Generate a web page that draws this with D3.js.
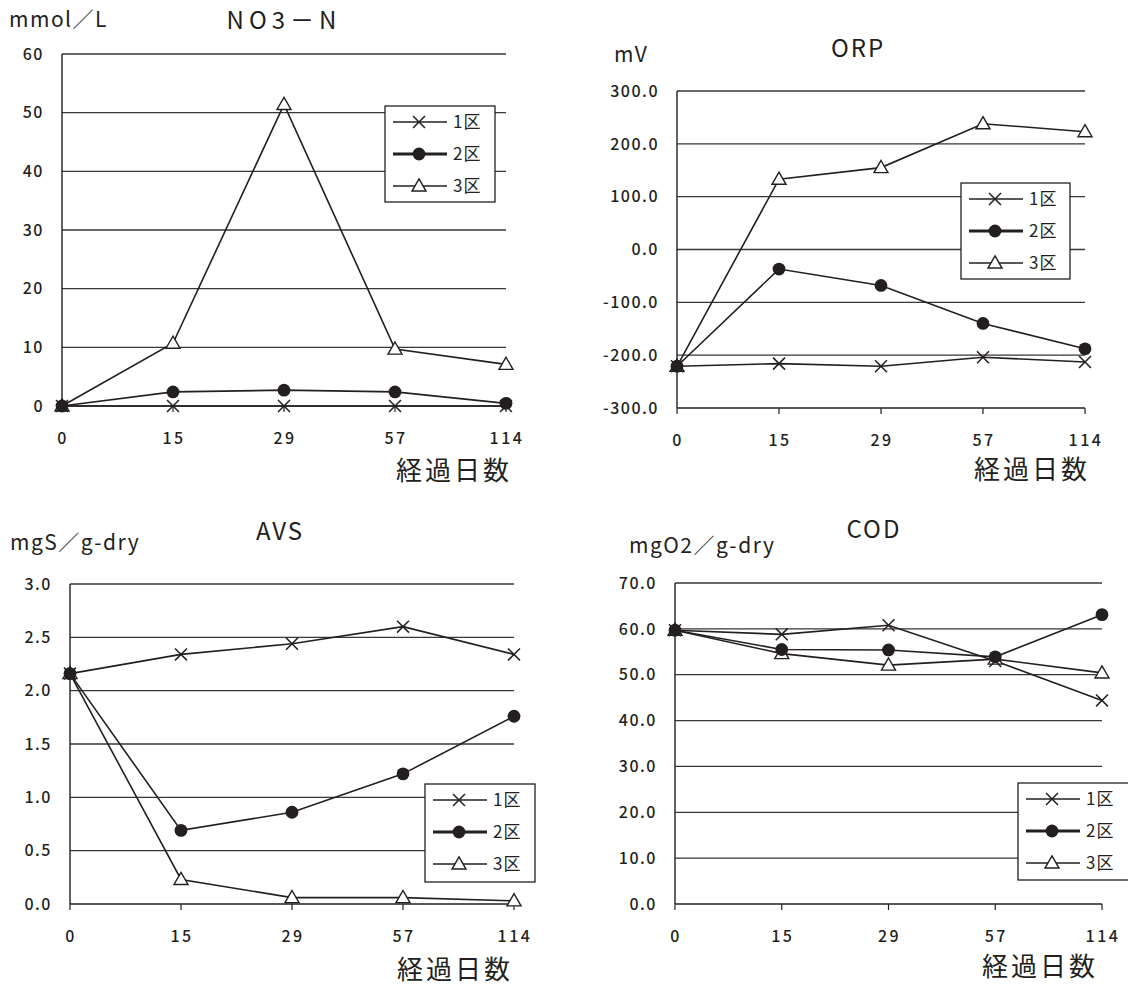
<!DOCTYPE html>
<html>
<head>
<meta charset="utf-8">
<script src="https://cdn.jsdelivr.net/npm/d3@7"></script>
<style>
body { margin: 0; background: #fff; }
text { font-family: "Noto Sans CJK JP", "Noto Sans", sans-serif; fill: #231f20; }
</style>
</head>
<body>
<div id="graphic"></div>
<script>
// categories (elapsed days) and zone names
const days = ["0", "15", "29", "57", "114"];
const zones = ["1区", "2区", "3区"];

// NO3-N (mmol/L)
const no3Zone1 = [0, 0, 0, 0, 0];
const no3Zone2 = [0, 2.4, 2.7, 2.4, 0.45];
const no3Zone3 = [0, 10.7, 51.4, 9.7, 7.1];

// ORP (mV)
const orpZone1 = [-221, -216, -221, -204, -213];
const orpZone2 = [-221, -37, -68, -140, -188];
const orpZone3 = [-221, 133, 155, 238, 223];

// AVS (mgS/g-dry)
const avsZone1 = [2.16, 2.34, 2.44, 2.60, 2.34];
const avsZone2 = [2.16, 0.69, 0.86, 1.22, 1.76];
const avsZone3 = [2.16, 0.23, 0.06, 0.06, 0.03];

// COD (mgO2/g-dry)
const codZone1 = [59.7, 58.8, 60.8, 53.0, 44.4];
const codZone2 = [59.7, 55.5, 55.4, 53.9, 63.1];
const codZone3 = [59.7, 54.6, 52.1, 53.4, 50.4];

// y tick values
const no3Ticks = [0, 10, 20, 30, 40, 50, 60];
const orpTicks = [-300, -200, -100, 0, 100, 200, 300];
const avsTicks = [0, 0.5, 1, 1.5, 2, 2.5, 3];
const codTicks = [0, 10, 20, 30, 40, 50, 60, 70];

const ink = "#231f20";

const panels = [
    {title: "NO3－N", unit: "mmol／L", series: [no3Zone1, no3Zone2, no3Zone3], ticks: no3Ticks, digits: 0,
     left: 62, right: 506, top: 54, bottom: 406, titleSpacing: 5,
     unitX: 9, unitY: 27, titleX: 284, titleY: 29, xlabX: 512, xlabY: 480,
     legend: {x: 385, y: 106, w: 110, h: 96}},
    {title: "ORP", unit: "mV", series: [orpZone1, orpZone2, orpZone3], ticks: orpTicks, digits: 1,
     left: 677, right: 1085, top: 91, bottom: 408, titleSpacing: 2,
     unitX: 614, unitY: 62, titleX: 858, titleY: 57, xlabX: 1090, xlabY: 479,
     legend: {x: 961, y: 183, w: 109, h: 96}},
    {title: "AVS", unit: "mgS／g-dry", series: [avsZone1, avsZone2, avsZone3], ticks: avsTicks, digits: 1,
     left: 70, right: 514, top: 584, bottom: 904, titleSpacing: 2,
     unitX: 10, unitY: 550, titleX: 280, titleY: 540, xlabX: 513, xlabY: 979,
     legend: {x: 425, y: 784, w: 110, h: 98}},
    {title: "COD", unit: "mgO2／g-dry", series: [codZone1, codZone2, codZone3], ticks: codTicks, digits: 1,
     left: 675, right: 1102, top: 583, bottom: 904, titleSpacing: 2,
     unitX: 629, unitY: 553, titleX: 874, titleY: 538, xlabX: 1098, xlabY: 976,
     legend: {x: 1018, y: 783, w: 112, h: 97}}
];

const svg = d3.select("#graphic")
    .append("svg")
    .attr("width", 1128)
    .attr("height", 985);

// marker per zone: cross, filled circle, hollow triangle
function drawMarker(g, zone, x, y) {
    if (zone === 0) {
        g.append("path")
            .attr("d", d3.symbol().type(d3.symbolTimes).size(95)())
            .attr("transform", `translate(${x},${y})`)
            .attr("fill", "none")
            .attr("stroke", ink)
            .attr("stroke-width", 1.5);
    } else if (zone === 1) {
        g.append("circle")
            .attr("cx", x).attr("cy", y).attr("r", 6.4)
            .attr("fill", ink);
    } else {
        g.append("path")
            .attr("d", d3.symbol().type(d3.symbolTriangle).size(85)())
            .attr("transform", `translate(${x},${y + 1})`)
            .attr("fill", "#fff")
            .attr("stroke", ink)
            .attr("stroke-width", 1.4);
    }
}

panels.forEach(p => {
    const g = svg.append("g");
    const x = d3.scalePoint().domain(days).range([p.left, p.right]);
    const y = d3.scaleLinear().domain(d3.extent(p.ticks)).range([p.bottom, p.top]);

    // gridlines
    g.append("g").selectAll("line")
        .data(p.ticks.slice(1))
        .join("line")
        .attr("x1", p.left).attr("x2", p.right)
        .attr("y1", d => y(d)).attr("y2", d => y(d))
        .attr("stroke", "#3a3536")
        .attr("stroke-width", 1.3);

    // y axis labels
    g.append("g").selectAll("text")
        .data(p.ticks)
        .join("text")
        .attr("x", p.left - 18)
        .attr("y", d => y(d))
        .attr("dy", "0.36em")
        .attr("text-anchor", "end")
        .style("font-size", "16px")
        .style("font-weight", 500)
        .style("letter-spacing", "1.5px")
        .text(d => d.toFixed(p.digits));

    // axes
    g.append("line")
        .attr("x1", p.left).attr("x2", p.left)
        .attr("y1", p.top).attr("y2", p.bottom)
        .attr("stroke", ink).attr("stroke-width", 1.4);
    g.append("line")
        .attr("x1", p.left).attr("x2", p.right)
        .attr("y1", p.bottom).attr("y2", p.bottom)
        .attr("stroke", ink).attr("stroke-width", 1.4);
    g.append("g").selectAll("line")
        .data(days)
        .join("line")
        .attr("x1", d => x(d)).attr("x2", d => x(d))
        .attr("y1", p.bottom).attr("y2", p.bottom + 6)
        .attr("stroke", ink).attr("stroke-width", 1.2);

    // x axis labels
    g.append("g").selectAll("text")
        .data(days)
        .join("text")
        .attr("x", d => x(d) + 1)
        .attr("y", p.bottom + 38)
        .attr("text-anchor", "middle")
        .style("font-size", "16px")
        .style("font-weight", 500)
        .style("letter-spacing", "2.5px")
        .text(d => d);

    // series lines
    const line = d3.line()
        .x((d, i) => x(days[i]))
        .y(d => y(d));
    p.series.forEach(s => {
        g.append("path")
            .datum(s)
            .attr("d", line)
            .attr("fill", "none")
            .attr("stroke", ink)
            .attr("stroke-width", 1.6);
    });

    // markers: triangles first, then crosses, then circles on top
    [2, 0, 1].forEach(z => {
        p.series[z].forEach((v, i) => drawMarker(g, z, x(days[i]), y(v)));
    });

    // titles
    g.append("text")
        .attr("x", p.unitX).attr("y", p.unitY)
        .style("font-size", "21px")
        .style("letter-spacing", "1.5px")
        .text(p.unit);
    g.append("text")
        .attr("x", p.titleX).attr("y", p.titleY)
        .attr("text-anchor", "middle")
        .style("font-size", "24px")
        .style("letter-spacing", p.titleSpacing + "px")
        .text(p.title);
    g.append("text")
        .attr("x", p.xlabX).attr("y", p.xlabY)
        .attr("text-anchor", "end")
        .style("font-size", "26px")
        .style("letter-spacing", "3px")
        .text("経過日数");

    // legend
    const L = p.legend;
    const lg = g.append("g");
    lg.append("rect")
        .attr("x", L.x).attr("y", L.y)
        .attr("width", L.w).attr("height", L.h)
        .attr("fill", "#fff")
        .attr("stroke", ink)
        .attr("stroke-width", 1.3);
    zones.forEach((name, z) => {
        const ry = L.y + 16 + z * 32;
        lg.append("line")
            .attr("x1", L.x + 8).attr("x2", L.x + 62)
            .attr("y1", ry).attr("y2", ry)
            .attr("stroke", ink)
            .attr("stroke-width", z === 1 ? 2.8 : 1.3);
        drawMarker(lg, z, L.x + 34, ry);
        lg.append("text")
            .attr("x", L.x + 68).attr("y", ry)
            .attr("dy", "0.36em")
            .style("font-size", "17px")
            .style("letter-spacing", "1px")
            .text(name);
    });
});
</script>
</body>
</html>
